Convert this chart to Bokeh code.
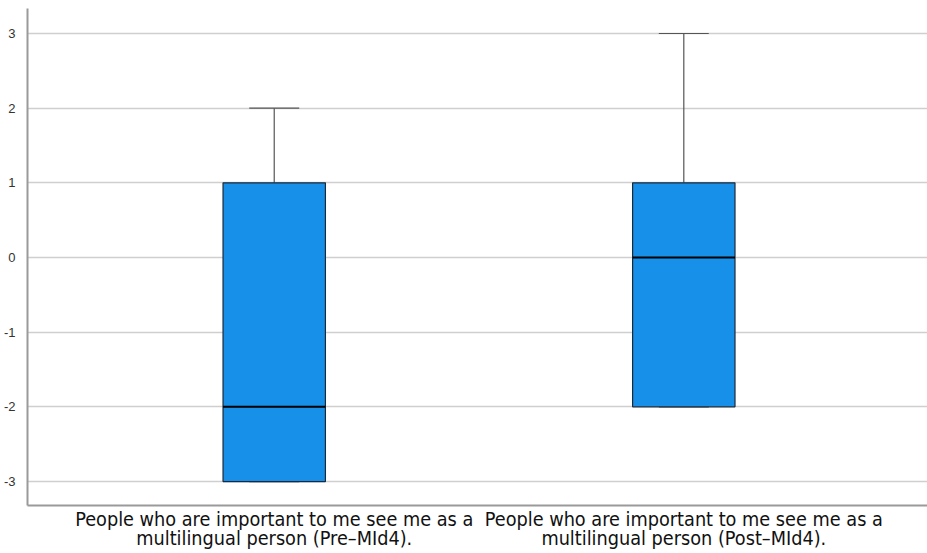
from bokeh.plotting import figure
from bokeh.models import FixedTicker, Range1d
from bokeh.embed import file_html
from bokeh.resources import INLINE

# Data
categories = ["People who are important to me see me as a\nmultilingual person (Pre\u2013MId4).",
              "People who are important to me see me as a\nmultilingual person (Post\u2013MId4)."]
positions = [1, 2]
mins = [-3, -2]
q1 = [-3, -2]
medians = [-2, 0]
q3 = [1, 1]
maxs = [2, 3]
y_ticks = [-3, -2, -1, 0, 1, 2, 3]
y_tick_labels = ["-3", "-2", "-1", "0", "1", "2", "3"]

box_w = 0.25
cap_w = 0.122

p = figure(width=927, height=553, output_backend="svg", toolbar_location=None,
           x_range=Range1d(0.3976, 2.595), y_range=Range1d(-3.321, 3.335),
           min_border_left=26, min_border_right=0, min_border_top=8, min_border_bottom=0)
p.outline_line_color = None
p.background_fill_color = "white"
p.border_fill_color = "white"

# grid
p.xgrid.grid_line_color = None
p.ygrid.grid_line_color = "#cfcfcf"
p.ygrid.grid_line_width = 1.5
p.ygrid.ticker = FixedTicker(ticks=y_ticks)

# whiskers
p.segment(x0=positions, y0=q3, x1=positions, y1=maxs, line_color="#555555", line_width=1.2)
p.segment(x0=positions, y0=mins, x1=positions, y1=q1, line_color="#555555", line_width=1.2)
p.segment(x0=[x - cap_w / 2 for x in positions], y0=maxs,
          x1=[x + cap_w / 2 for x in positions], y1=maxs, line_color="#555555", line_width=1.2)
p.segment(x0=[x - cap_w / 2 for x in positions], y0=mins,
          x1=[x + cap_w / 2 for x in positions], y1=mins, line_color="#555555", line_width=1.2)

# boxes
p.vbar(x=positions, width=box_w, bottom=q1, top=q3, fill_color="#1790e9",
       line_color="#1b2a3a", line_width=1.2)
# medians
p.segment(x0=[x - box_w / 2 for x in positions], y0=medians,
          x1=[x + box_w / 2 for x in positions], y1=medians, line_color="black", line_width=2)

# y axis
p.yaxis.ticker = FixedTicker(ticks=y_ticks)
p.yaxis.major_label_overrides = {t: s for t, s in zip(y_ticks, y_tick_labels)}
p.yaxis.axis_line_color = "#9a9a9a"
p.yaxis.axis_line_width = 2
p.yaxis.major_tick_line_color = None
p.yaxis.minor_tick_line_color = None
p.yaxis.major_label_standoff = 6
p.yaxis.major_label_text_font = "Liberation Sans"
p.yaxis.major_label_text_font_size = "13px"
p.yaxis.major_label_text_color = "#333333"

# x axis
p.xaxis.ticker = FixedTicker(ticks=positions)
p.xaxis.major_label_overrides = {pos: cat for pos, cat in zip(positions, categories)}
p.xaxis.axis_line_color = "#9a9a9a"
p.xaxis.axis_line_width = 2
p.xaxis.major_tick_line_color = None
p.xaxis.minor_tick_line_color = None
p.xaxis.major_tick_out = 0
p.xaxis.major_tick_in = 0
p.xaxis.major_label_standoff = 2
p.xaxis.major_label_text_font = "DejaVu Sans Condensed"
p.xaxis.major_label_text_font_size = "19.7px"
p.xaxis.major_label_text_line_height = 0.85
p.xaxis.major_label_text_color = "#111111"

open("out.html", "w").write(file_html(p, INLINE))
